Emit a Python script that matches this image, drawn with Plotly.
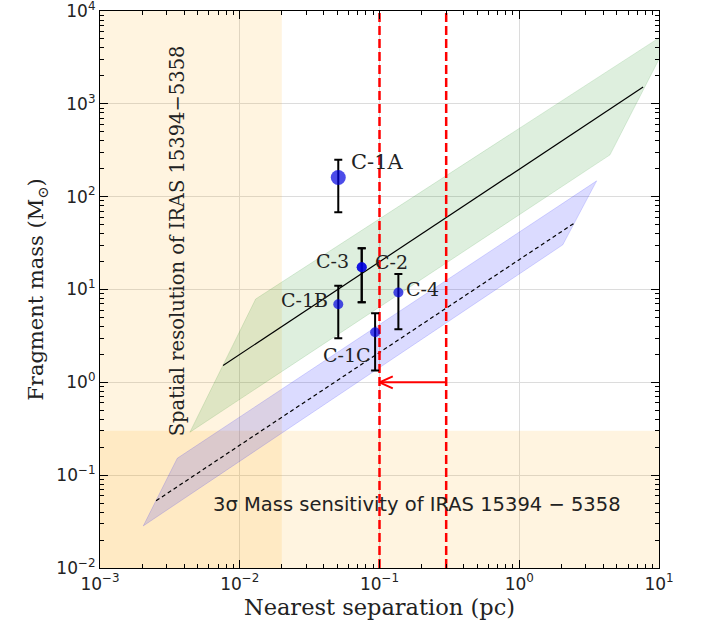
import numpy as np
import plotly.graph_objects as go

# ---- data ----
names = ["C-1A", "C-1B", "C-3", "C-2", "C-1C", "C-4"]
sep = [0.0507, 0.0507, 0.0746, 0.0746, 0.093, 0.1365]
mass = [161, 6.95, 17.4, 17.4, 3.47, 9.27]
mass_hi = [250, 11.0, 27.9, 27.9, 5.56, 14.7]
mass_lo = [68, 2.99, 7.3, 7.3, 1.34, 3.73]
marker_sizes = [15, 10, 10, 10, 10, 10]

# thermal Jeans relation (solid) and its band
jeans_x = [0.0076, 7.7]
jeans_y = [1.52, 1514]
jeans_band_x = [0.0044, 0.013, 13.1, 4.46]
jeans_band_y = [0.29, 7.9, 6680, 282]

# second relation (dashed) and its band
turb_x = [0.00252, 2.51]
turb_y = [0.053, 52.6]
turb_band_x = [0.00204, 0.00357, 3.58, 2.05]
turb_band_y = [0.0284, 0.152, 148, 30.3]

# limits
res_limit = 0.02        # pc
mass_limit = 0.3        # Msun
sep_lines = [0.1, 0.3]  # pc
arrow_y = 1.0

xr = [1e-3, 1e1]
yr = [1e-2, 1e4]

x_exps = [-3, -2, -1, 0, 1]
y_exps = [-2, -1, 0, 1, 2, 3, 4]

fig = go.Figure()

orange = "rgba(255,165,0,0.12)"
fig.add_trace(go.Scatter(x=[xr[0], res_limit, res_limit, xr[0], xr[0]],
                         y=[yr[0], yr[0], yr[1], yr[1], yr[0]],
                         fill="toself", fillcolor=orange, line=dict(width=0),
                         mode="lines", hoverinfo="skip", showlegend=False))
fig.add_trace(go.Scatter(x=[xr[0], xr[1], xr[1], xr[0], xr[0]],
                         y=[yr[0], yr[0], mass_limit, mass_limit, yr[0]],
                         fill="toself", fillcolor=orange, line=dict(width=0),
                         mode="lines", hoverinfo="skip", showlegend=False))

fig.add_trace(go.Scatter(x=jeans_band_x + jeans_band_x[:1], y=jeans_band_y + jeans_band_y[:1],
                         fill="toself", fillcolor="rgba(0,128,0,0.13)",
                         line=dict(width=1, color="rgba(0,128,0,0.13)"),
                         mode="lines", hoverinfo="skip", showlegend=False))
fig.add_trace(go.Scatter(x=turb_band_x + turb_band_x[:1], y=turb_band_y + turb_band_y[:1],
                         fill="toself", fillcolor="rgba(0,0,255,0.14)",
                         line=dict(width=1, color="rgba(0,0,255,0.14)"),
                         mode="lines", hoverinfo="skip", showlegend=False))

fig.add_trace(go.Scatter(x=jeans_x, y=jeans_y, mode="lines",
                         line=dict(color="black", width=1.2), showlegend=False))
fig.add_trace(go.Scatter(x=turb_x, y=turb_y, mode="lines",
                         line=dict(color="black", width=1.2, dash="4px,3px"), showlegend=False))

for s in sep_lines:
    fig.add_trace(go.Scatter(x=[s, s], y=yr, mode="lines",
                             line=dict(color="red", width=2.5, dash="9px,4px"),
                             showlegend=False))

fig.add_trace(go.Scatter(x=[sep_lines[1], sep_lines[0]], y=[arrow_y, arrow_y], mode="lines",
                         line=dict(color="red", width=2), showlegend=False))
tip = sep_lines[0]
fig.add_trace(go.Scatter(x=[tip * 10**0.095, tip, tip * 10**0.095],
                         y=[arrow_y * 10**0.065, arrow_y, arrow_y / 10**0.065],
                         mode="lines", line=dict(color="red", width=2), showlegend=False))

fig.add_trace(go.Scatter(
    x=sep, y=mass, mode="markers",
    marker=dict(color="#0000e0", size=marker_sizes, line=dict(width=0)),
    error_y=dict(type="data", symmetric=False,
                 array=[h - m for h, m in zip(mass_hi, mass)],
                 arrayminus=[m - l for m, l in zip(mass, mass_lo)],
                 color="black", thickness=2, width=4),
    showlegend=False))

xrange_log = [np.log10(xr[0]), np.log10(xr[1])]
yrange_log = [np.log10(yr[0]), np.log10(yr[1])]

# invisible trace that creates the overlay axes used only for minor ticks
fig.add_trace(go.Scatter(x=[xrange_log[0]], y=[yrange_log[0]], xaxis="x2", yaxis="y2", mode="markers",
                         marker=dict(opacity=0), hoverinfo="skip", showlegend=False))

serif = "DejaVu Serif"
sans = "DejaVu Sans"

label_cfg = {
    "C-1A": dict(xanchor="left", xshift=11, yshift=15, size=21),
    "C-1B": dict(xanchor="right", xshift=-8, yshift=4, size=19),
    "C-3": dict(xanchor="right", xshift=-11, yshift=6, size=19),
    "C-2": dict(xanchor="left", xshift=11, yshift=5, size=19),
    "C-1C": dict(xanchor="right", xshift=-2, yshift=-23, size=19),
    "C-4": dict(xanchor="left", xshift=6, yshift=4, size=19),
}
for n, sx, m in zip(names, sep, mass):
    c = label_cfg[n]
    fig.add_annotation(x=np.log10(sx), y=np.log10(m), text=n, showarrow=False,
                       xanchor=c["xanchor"], yanchor="middle",
                       xshift=c["xshift"], yshift=c["yshift"],
                       font=dict(family=serif, size=c["size"], color="#222"))

fig.add_annotation(x=np.log10(0.00356), y=1.52, text="Spatial resolution of IRAS 15394\u22125358",
                   textangle=-90, showarrow=False, xanchor="center", yanchor="middle",
                   font=dict(family=serif, size=19.5, color="#222"))
fig.add_annotation(x=np.log10(0.185), y=np.log10(0.0478), text="3\u03c3 Mass sensitivity of IRAS 15394 \u2212 5358",
                   showarrow=False, xanchor="center", yanchor="middle",
                   font=dict(family=sans, size=19.5, color="#222"))


def minor_vals_log(exps):
    return [float(np.log10(m * 10.0**e)) for e in exps[:-1] for m in range(2, 10)]


def power_text(e):
    return "10<sup>" + (str(e) if e >= 0 else "\u2212" + str(-e)) + "</sup>"


axis_common = dict(
    type="log", showline=True, linecolor="black", linewidth=1.2, mirror="allticks",
    ticks="inside", ticklen=8, tickwidth=1.2, tickcolor="black",
    showgrid=True, gridcolor="#dcdcdc", gridwidth=1, zeroline=False,
    tickfont=dict(family=sans, size=17, color="#222"), tickmode="array",
    ticklabeloverflow="allow", automargin=False,
)
minor_common = dict(
    type="linear", showline=True, linecolor="black", linewidth=1.2, mirror="allticks",
    ticks="inside", ticklen=4, tickwidth=1.2, tickcolor="black",
    showgrid=False, zeroline=False, showticklabels=False, tickmode="array",
    automargin=False, fixedrange=True,
)

fig.update_layout(
    xaxis=dict(**axis_common, range=xrange_log,
               tickvals=[10.0**e for e in x_exps], ticktext=[power_text(e) for e in x_exps],
               title=dict(text="Nearest separation (pc)", font=dict(family=serif, size=22.5, color="#222"), standoff=4)),
    yaxis=dict(**axis_common, range=yrange_log,
               tickvals=[10.0**e for e in y_exps], ticktext=[power_text(e) for e in y_exps],
               title=dict(text="Fragment mass (M<sub>\u2299</sub>)", font=dict(family=serif, size=21, color="#222"), standoff=6)),
    xaxis2=dict(**minor_common, range=xrange_log, overlaying="x", anchor="y2", side="bottom",
                tickvals=minor_vals_log(x_exps)),
    yaxis2=dict(**minor_common, range=yrange_log, overlaying="y", anchor="x2", side="left",
                tickvals=minor_vals_log(y_exps)),
    width=704, height=629, margin=dict(l=100, r=45, t=11, b=61),
    plot_bgcolor="white", paper_bgcolor="white",
)

fig.write_html("out.html")
